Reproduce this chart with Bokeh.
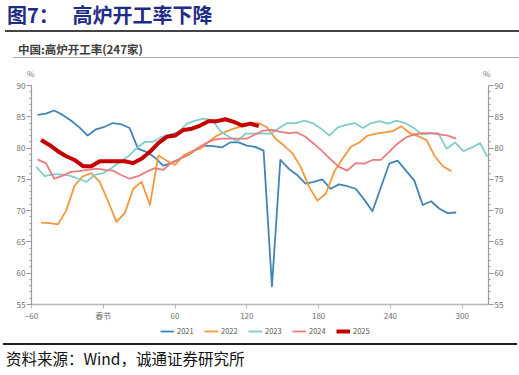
from bokeh.plotting import figure
from bokeh.models import LinearAxis, FixedTicker, Legend, LegendItem, Div, Range1d
from bokeh.layouts import column
from bokeh.embed import file_html
from bokeh.resources import INLINE

# ---- data (x = days relative to Spring Festival, y = blast-furnace operating rate %) ----
series_names = ["2021", "2022", "2023", "2024", "2025"]

x2021 = [-55, -48, -41, -34, -27, -20, -13, -6, 1, 8, 15, 22, 29, 36, 43, 50, 57, 64, 71, 78,
         85, 92, 99, 106, 113, 120, 127, 134, 141, 148, 155, 162, 169, 176, 183, 190, 197, 204,
         211, 218, 225, 232, 239, 246, 253, 260, 267, 274, 281, 288, 295]
y2021 = [85.3, 85.5, 86.0, 85.3, 84.4, 83.3, 82.0, 83.0, 83.4, 84.0, 83.8, 83.2, 79.9, 79.4,
         78.5, 77.2, 77.6, 78.3, 78.9, 79.8, 80.4, 80.3, 80.1, 80.9, 80.9, 80.4, 80.2, 79.6,
         57.9, 78.1, 76.7, 75.7, 74.3, 74.6, 75.0, 73.5, 74.2, 73.9, 73.5, 71.8, 69.9, 73.7,
         77.5, 78.0, 76.4, 74.8, 70.9, 71.5, 70.3, 69.6, 69.7]

x2022 = [-52, -45, -38, -31, -24, -17, -10, -3, 4, 11, 18, 25, 32, 39, 46, 53, 60, 67, 74, 81,
         88, 95, 102, 109, 116, 123, 130, 137, 144, 151, 158, 165, 172, 179, 186, 193, 200,
         207, 214, 221, 228, 235, 242, 249, 256, 263, 270, 277, 284, 291]
y2022 = [68.1, 68.0, 67.8, 70.0, 74.0, 75.5, 76.0, 74.6, 71.5, 68.2, 69.6, 73.5, 74.6, 70.9,
         78.8, 78.0, 77.3, 78.8, 79.5, 79.9, 81.0, 82.0, 82.6, 83.1, 83.5, 84.0, 84.0, 83.3,
         81.5, 80.4, 79.2, 77.0, 73.8, 71.6, 72.7, 76.2, 78.3, 80.2, 80.9, 82.0, 82.3, 82.5,
         82.7, 83.5, 82.4, 81.9, 81.3, 78.7, 77.1, 76.3]

x2023 = [-56, -49, -42, -35, -28, -21, -14, -7, 0, 7, 14, 21, 28, 35, 42, 49, 56, 63, 70, 77,
         84, 91, 98, 105, 112, 119, 126, 133, 140, 147, 154, 161, 168, 175, 182, 189, 196, 203,
         210, 217, 224, 231, 238, 245, 252, 259, 266, 273, 280, 287, 294, 301, 308, 315, 321]
y2023 = [77.0, 75.5, 75.8, 75.8, 75.6, 75.1, 74.6, 75.7, 76.0, 76.8, 77.8, 78.7, 80.0, 81.0,
         81.0, 81.8, 82.2, 82.6, 83.9, 84.4, 84.7, 84.5, 82.7, 81.8, 81.1, 82.3, 82.3, 82.3,
         82.3, 83.2, 84.0, 84.0, 84.4, 84.0, 83.1, 82.0, 83.3, 83.7, 84.0, 83.2, 84.0, 84.3,
         83.9, 84.4, 84.0, 83.3, 82.2, 82.3, 82.4, 79.9, 80.9, 79.5, 80.1, 80.8, 78.6]

x2024 = [-55, -48, -41, -34, -27, -20, -13, -6, 1, 8, 15, 22, 29, 36, 43, 50, 57, 64, 71, 78,
         85, 92, 99, 106, 113, 120, 127, 134, 141, 148, 155, 162, 169, 176, 183, 190, 197, 204,
         211, 218, 225, 232, 239, 246, 253, 260, 267, 274, 281, 288, 295]
y2024 = [78.2, 77.6, 75.1, 75.6, 76.2, 76.3, 76.5, 76.7, 76.5, 76.4, 75.7, 75.1, 75.5, 76.2,
         76.8, 76.5, 77.7, 78.3, 78.9, 79.9, 80.7, 81.3, 81.5, 81.5, 81.5, 81.5, 82.2, 82.8,
         82.9, 82.6, 82.4, 82.5, 81.8, 80.7, 79.5, 78.2, 77.0, 76.4, 77.6, 77.5, 78.1, 78.1,
         79.4, 80.7, 81.7, 82.2, 82.4, 82.4, 82.2, 82.0, 81.5]

x2025 = [-52, -45, -38, -31, -24, -17, -10, -3, 4, 11, 18, 25, 32, 39, 46, 53, 60, 67, 74, 81,
         88, 95, 102, 109, 116, 123, 130]
y2025 = [81.3, 80.5, 79.5, 78.7, 78.1, 77.1, 77.1, 77.9, 77.9, 77.9, 77.9, 77.6, 78.3, 79.4,
         80.8, 81.8, 82.0, 82.9, 83.1, 83.6, 84.3, 84.3, 84.6, 84.2, 83.6, 83.9, 83.5]

x_ticks = [-60, 0, 60, 120, 180, 240, 300]
x_tick_labels = {0: "春节"}
y_ticks = [55, 60, 65, 70, 75, 80, 85, 90]

colors = ["#4284B8", "#F5983C", "#80CDC9", "#EC7B80", "#C40000"]
widths = [1.8, 1.8, 1.8, 1.8, 4]

FONT = "Noto Sans CJK SC"
W = 519

# ---- header ----
header = Div(width=W, height=80, margin=0, text=f"""
<div style="position:relative;width:{W}px;height:80px;font-family:'{FONT}';">
  <div style="position:absolute;left:7px;top:4px;font-size:20px;line-height:21px;font-weight:bold;color:#1F2C85;white-space:nowrap;">图7：&nbsp;&nbsp;&nbsp;高炉开工率下降</div>
  <div style="position:absolute;left:5px;top:30px;width:514px;height:2px;background:#444;"></div>
  <div style="position:absolute;left:18px;top:42px;font-size:11.5px;line-height:14px;font-weight:bold;color:#404040;white-space:nowrap;">中国:高炉开工率(247家)</div>
  <div style="position:absolute;left:13px;top:57px;width:506px;height:1px;background:#aaa;"></div>
  <div style="position:absolute;left:27px;top:69px;font-size:8px;line-height:10px;color:#777;">%</div>
  <div style="position:absolute;left:483px;top:69px;font-size:8px;line-height:10px;color:#777;">%</div>
</div>
""")

# ---- chart ----
p = figure(width=W, height=243, x_range=Range1d(-60, 322), y_range=Range1d(55, 90),
           output_backend="svg", toolbar_location=None, margin=0,
           min_border_left=31, min_border_right=31, min_border_top=5, min_border_bottom=19)
p.grid.visible = False
p.outline_line_color = None
p.background_fill_color = "white"

for xs, ys, c, w in zip([x2021, x2022, x2023, x2024, x2025],
                        [y2021, y2022, y2023, y2024, y2025], colors, widths):
    p.line(xs, ys, line_color=c, line_width=w, line_join="round")

axis_color = "#9a9a9a"
label_color = "#707070"

xa = p.xaxis[0]
xa.ticker = FixedTicker(ticks=x_ticks, minor_ticks=[])
xa.major_label_overrides = x_tick_labels
xa.axis_line_color = "#b5b5b5"
xa.axis_line_width = 1.5
xa.major_tick_line_color = "#b5b5b5"
xa.major_tick_out = 4
xa.major_tick_in = 0
xa.minor_tick_out = 0
xa.minor_tick_in = 0
xa.major_label_text_font = FONT
xa.major_label_text_font_size = "8px"
xa.major_label_text_color = label_color
xa.major_label_standoff = 1

ya = p.yaxis[0]
ra = LinearAxis()
p.add_layout(ra, "right")
for ax in (ya, ra):
    ax.ticker = FixedTicker(ticks=y_ticks, minor_ticks=list(range(55, 91)))
    ax.axis_line_color = axis_color
    ax.axis_line_width = 1.2
    ax.major_tick_line_color = axis_color
    ax.minor_tick_line_color = axis_color
    ax.major_tick_out = 5
    ax.major_tick_in = 0
    ax.minor_tick_out = 2
    ax.minor_tick_in = 0
    ax.major_label_text_font = FONT
    ax.major_label_text_font_size = "8px"
    ax.major_label_text_color = label_color
    ax.major_label_standoff = 1

# ---- legend (own strip below the chart; sample lines sit outside its visible range) ----
lg = figure(width=W, height=17, x_range=Range1d(0, 1), y_range=Range1d(0, 1),
            output_backend="svg", toolbar_location=None, margin=0,
            x_axis_type=None, y_axis_type=None, min_border=0)
lg.grid.visible = False
lg.outline_line_color = None
items = []
for n, c, w in zip(series_names, colors, widths):
    r = lg.line([0, 1], [-5, -5], line_color=c, line_width=w)
    items.append(LegendItem(label=n, renderers=[r]))
legend = Legend(items=items, orientation="horizontal", location=(129, 4))
legend.label_text_font = FONT
legend.label_text_font_size = "7.5px"
legend.label_text_color = "#555555"
legend.glyph_width = 14
legend.glyph_height = 8
legend.label_height = 10
legend.label_standoff = 3
legend.spacing = 7
legend.padding = 0
legend.margin = 0
legend.border_line_color = None
legend.background_fill_alpha = 0
lg.add_layout(legend, "center")

# ---- footer ----
footer = Div(width=W, height=34, margin=0, text=f"""
<div style="position:relative;width:{W}px;height:34px;font-family:'{FONT}';">
  <div style="position:absolute;left:3px;top:3px;width:514px;height:1.5px;background:#222;"></div>
  <div style="position:absolute;left:6px;top:9px;font-size:15.5px;line-height:19px;color:#111;white-space:nowrap;">资料来源：Wind，诚通证券研究所</div>
</div>
""")

layout = column(header, p, lg, footer, spacing=0)
open("out.html", "w").write(file_html(layout, INLINE))
